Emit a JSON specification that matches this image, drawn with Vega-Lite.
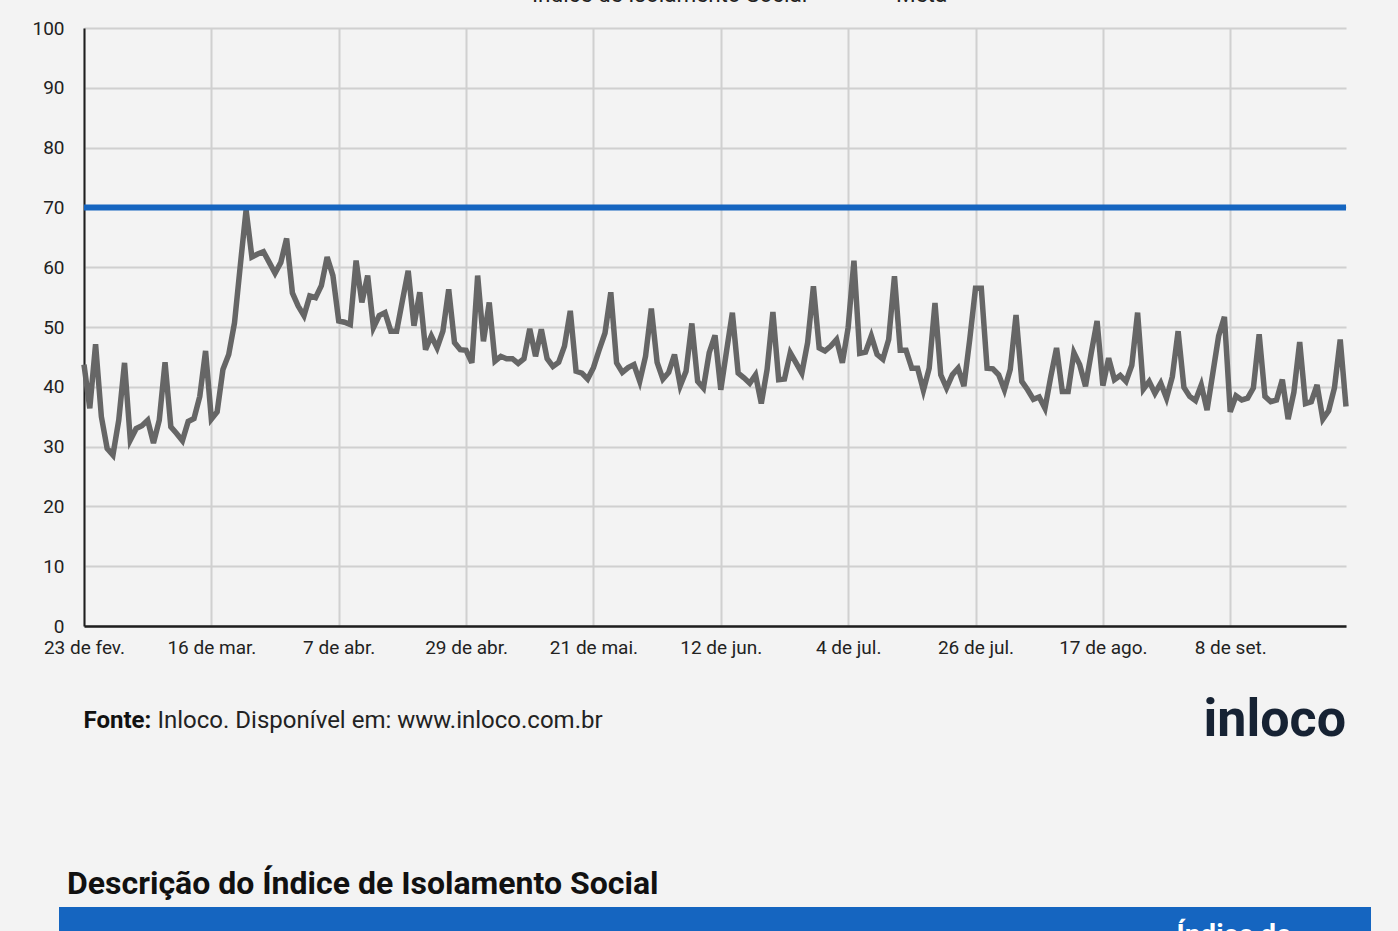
{
  "$schema": "https://vega.github.io/schema/vega-lite/v6.json",
  "background": "#f3f3f3",
  "padding": {"left": 31, "top": -23, "right": 28, "bottom": -17},
  "config": {"view": {"stroke": null}, "font": "Roboto"},
  "bounds": "flush",
  "center": true,
  "spacing": 281,
  "vconcat": [
    {
      "width": 1262,
      "height": 598,
      "title": {"text": "inloco", "orient": "bottom", "anchor": "end", "frame": "group", "fontSize": 52, "fontWeight": "bold", "color": "#162233", "baseline": "alphabetic", "offset": 4},
      "layer": [
        {
          "data": {"values": [
            {"dia":"2020-02-23","indice":43.7},{"dia":"2020-02-24","indice":36.4},{"dia":"2020-02-25","indice":47.1},{"dia":"2020-02-26","indice":35.0},{"dia":"2020-02-27","indice":29.7},{"dia":"2020-02-28","indice":28.6},{"dia":"2020-02-29","indice":34.4},
            {"dia":"2020-03-01","indice":44.0},{"dia":"2020-03-02","indice":31.1},{"dia":"2020-03-03","indice":33.0},{"dia":"2020-03-04","indice":33.5},{"dia":"2020-03-05","indice":34.4},{"dia":"2020-03-06","indice":30.6},{"dia":"2020-03-07","indice":34.4},{"dia":"2020-03-08","indice":44.1},{"dia":"2020-03-09","indice":33.3},{"dia":"2020-03-10","indice":32.2},{"dia":"2020-03-11","indice":31.0},{"dia":"2020-03-12","indice":34.2},{"dia":"2020-03-13","indice":34.7},{"dia":"2020-03-14","indice":38.4},{"dia":"2020-03-15","indice":46.0},{"dia":"2020-03-16","indice":34.6},{"dia":"2020-03-17","indice":35.8},{"dia":"2020-03-18","indice":42.9},{"dia":"2020-03-19","indice":45.4},{"dia":"2020-03-20","indice":50.7},{"dia":"2020-03-21","indice":60.3},{"dia":"2020-03-22","indice":69.6},{"dia":"2020-03-23","indice":61.7},{"dia":"2020-03-24","indice":62.2},{"dia":"2020-03-25","indice":62.6},{"dia":"2020-03-26","indice":60.8},{"dia":"2020-03-27","indice":59.0},{"dia":"2020-03-28","indice":60.8},{"dia":"2020-03-29","indice":64.8},{"dia":"2020-03-30","indice":55.7},{"dia":"2020-03-31","indice":53.5},
            {"dia":"2020-04-01","indice":51.9},{"dia":"2020-04-02","indice":55.2},{"dia":"2020-04-03","indice":54.9},{"dia":"2020-04-04","indice":56.9},{"dia":"2020-04-05","indice":61.7},{"dia":"2020-04-06","indice":58.6},{"dia":"2020-04-07","indice":51.0},{"dia":"2020-04-08","indice":50.8},{"dia":"2020-04-09","indice":50.4},{"dia":"2020-04-10","indice":61.1},{"dia":"2020-04-11","indice":54.1},{"dia":"2020-04-12","indice":58.6},{"dia":"2020-04-13","indice":49.9},{"dia":"2020-04-14","indice":51.9},{"dia":"2020-04-15","indice":52.4},{"dia":"2020-04-16","indice":49.3},{"dia":"2020-04-17","indice":49.3},{"dia":"2020-04-18","indice":54.4},{"dia":"2020-04-19","indice":59.4},{"dia":"2020-04-20","indice":50.2},{"dia":"2020-04-21","indice":55.8},{"dia":"2020-04-22","indice":46.2},{"dia":"2020-04-23","indice":48.5},{"dia":"2020-04-24","indice":46.5},{"dia":"2020-04-25","indice":49.3},{"dia":"2020-04-26","indice":56.3},{"dia":"2020-04-27","indice":47.4},{"dia":"2020-04-28","indice":46.2},{"dia":"2020-04-29","indice":46.1},{"dia":"2020-04-30","indice":44.0},
            {"dia":"2020-05-01","indice":58.6},{"dia":"2020-05-02","indice":47.6},{"dia":"2020-05-03","indice":54.1},{"dia":"2020-05-04","indice":44.3},{"dia":"2020-05-05","indice":45.1},{"dia":"2020-05-06","indice":44.7},{"dia":"2020-05-07","indice":44.7},{"dia":"2020-05-08","indice":43.9},{"dia":"2020-05-09","indice":44.7},{"dia":"2020-05-10","indice":49.7},{"dia":"2020-05-11","indice":45.1},{"dia":"2020-05-12","indice":49.6},{"dia":"2020-05-13","indice":44.7},{"dia":"2020-05-14","indice":43.4},{"dia":"2020-05-15","indice":44.1},{"dia":"2020-05-16","indice":46.8},{"dia":"2020-05-17","indice":52.7},{"dia":"2020-05-18","indice":42.6},{"dia":"2020-05-19","indice":42.3},{"dia":"2020-05-20","indice":41.3},{"dia":"2020-05-21","indice":43.2},{"dia":"2020-05-22","indice":46.2},{"dia":"2020-05-23","indice":49.0},{"dia":"2020-05-24","indice":55.8},{"dia":"2020-05-25","indice":44.0},{"dia":"2020-05-26","indice":42.4},{"dia":"2020-05-27","indice":43.2},{"dia":"2020-05-28","indice":43.7},{"dia":"2020-05-29","indice":40.9},{"dia":"2020-05-30","indice":45.1},{"dia":"2020-05-31","indice":53.1},
            {"dia":"2020-06-01","indice":44.1},{"dia":"2020-06-02","indice":41.3},{"dia":"2020-06-03","indice":42.4},{"dia":"2020-06-04","indice":45.4},{"dia":"2020-06-05","indice":40.2},{"dia":"2020-06-06","indice":42.6},{"dia":"2020-06-07","indice":50.6},{"dia":"2020-06-08","indice":40.9},{"dia":"2020-06-09","indice":39.8},{"dia":"2020-06-10","indice":45.7},{"dia":"2020-06-11","indice":48.6},{"dia":"2020-06-12","indice":39.5},{"dia":"2020-06-13","indice":46.0},{"dia":"2020-06-14","indice":52.4},{"dia":"2020-06-15","indice":42.3},{"dia":"2020-06-16","indice":41.5},{"dia":"2020-06-17","indice":40.6},{"dia":"2020-06-18","indice":42.0},{"dia":"2020-06-19","indice":37.2},{"dia":"2020-06-20","indice":42.9},{"dia":"2020-06-21","indice":52.5},{"dia":"2020-06-22","indice":41.2},{"dia":"2020-06-23","indice":41.3},{"dia":"2020-06-24","indice":45.7},{"dia":"2020-06-25","indice":44.0},{"dia":"2020-06-26","indice":42.3},{"dia":"2020-06-27","indice":47.4},{"dia":"2020-06-28","indice":56.8},{"dia":"2020-06-29","indice":46.5},{"dia":"2020-06-30","indice":46.0},
            {"dia":"2020-07-01","indice":46.8},{"dia":"2020-07-02","indice":47.9},{"dia":"2020-07-03","indice":44.0},{"dia":"2020-07-04","indice":49.9},{"dia":"2020-07-05","indice":61.1},{"dia":"2020-07-06","indice":45.6},{"dia":"2020-07-07","indice":45.8},{"dia":"2020-07-08","indice":48.5},{"dia":"2020-07-09","indice":45.4},{"dia":"2020-07-10","indice":44.6},{"dia":"2020-07-11","indice":47.9},{"dia":"2020-07-12","indice":58.5},{"dia":"2020-07-13","indice":46.1},{"dia":"2020-07-14","indice":46.1},{"dia":"2020-07-15","indice":43.1},{"dia":"2020-07-16","indice":43.1},{"dia":"2020-07-17","indice":39.4},{"dia":"2020-07-18","indice":43.1},{"dia":"2020-07-19","indice":54.0},{"dia":"2020-07-20","indice":42.0},{"dia":"2020-07-21","indice":39.8},{"dia":"2020-07-22","indice":42.0},{"dia":"2020-07-23","indice":43.1},{"dia":"2020-07-24","indice":40.1},{"dia":"2020-07-25","indice":47.9},{"dia":"2020-07-26","indice":56.5},{"dia":"2020-07-27","indice":56.5},{"dia":"2020-07-28","indice":43.1},{"dia":"2020-07-29","indice":43.0},{"dia":"2020-07-30","indice":42.0},{"dia":"2020-07-31","indice":39.5},
            {"dia":"2020-08-01","indice":42.9},{"dia":"2020-08-02","indice":52.0},{"dia":"2020-08-03","indice":40.9},{"dia":"2020-08-04","indice":39.5},{"dia":"2020-08-05","indice":37.9},{"dia":"2020-08-06","indice":38.3},{"dia":"2020-08-07","indice":36.4},{"dia":"2020-08-08","indice":41.7},{"dia":"2020-08-09","indice":46.5},{"dia":"2020-08-10","indice":39.2},{"dia":"2020-08-11","indice":39.2},{"dia":"2020-08-12","indice":45.7},{"dia":"2020-08-13","indice":43.7},{"dia":"2020-08-14","indice":40.1},{"dia":"2020-08-15","indice":45.7},{"dia":"2020-08-16","indice":51.0},{"dia":"2020-08-17","indice":40.2},{"dia":"2020-08-18","indice":44.8},{"dia":"2020-08-19","indice":41.2},{"dia":"2020-08-20","indice":41.9},{"dia":"2020-08-21","indice":40.9},{"dia":"2020-08-22","indice":43.6},{"dia":"2020-08-23","indice":52.4},{"dia":"2020-08-24","indice":39.6},{"dia":"2020-08-25","indice":40.9},{"dia":"2020-08-26","indice":38.9},{"dia":"2020-08-27","indice":40.6},{"dia":"2020-08-28","indice":38.1},{"dia":"2020-08-29","indice":41.7},{"dia":"2020-08-30","indice":49.3},{"dia":"2020-08-31","indice":39.9},
            {"dia":"2020-09-01","indice":38.4},{"dia":"2020-09-02","indice":37.7},{"dia":"2020-09-03","indice":40.3},{"dia":"2020-09-04","indice":36.1},{"dia":"2020-09-05","indice":42.3},{"dia":"2020-09-06","indice":48.5},{"dia":"2020-09-07","indice":51.7},{"dia":"2020-09-08","indice":35.8},{"dia":"2020-09-09","indice":38.5},{"dia":"2020-09-10","indice":37.8},{"dia":"2020-09-11","indice":38.1},{"dia":"2020-09-12","indice":39.8},{"dia":"2020-09-13","indice":48.8},{"dia":"2020-09-14","indice":38.4},{"dia":"2020-09-15","indice":37.5},{"dia":"2020-09-16","indice":37.8},{"dia":"2020-09-17","indice":41.2},{"dia":"2020-09-18","indice":34.6},{"dia":"2020-09-19","indice":39.1},{"dia":"2020-09-20","indice":47.5},{"dia":"2020-09-21","indice":37.2},{"dia":"2020-09-22","indice":37.5},{"dia":"2020-09-23","indice":40.3},{"dia":"2020-09-24","indice":34.6},{"dia":"2020-09-25","indice":36.0},{"dia":"2020-09-26","indice":39.8},{"dia":"2020-09-27","indice":47.9},{"dia":"2020-09-28","indice":36.7}
          ]},
          "mark": {"type": "line", "strokeWidth": 5.5, "strokeJoin": "miter"},
          "encoding": {
            "x": {
              "field": "dia", "type": "temporal",
              "scale": {"type": "utc", "nice": false, "domain": [{"year": 2020, "month": "feb", "date": 23, "utc": true}, {"year": 2020, "month": "sep", "date": 28, "utc": true}]},
              "axis": {
                "values": [
                  {"year": 2020, "month": "feb", "date": 23, "utc": true},
                  {"year": 2020, "month": "mar", "date": 16, "utc": true},
                  {"year": 2020, "month": "apr", "date": 7, "utc": true},
                  {"year": 2020, "month": "apr", "date": 29, "utc": true},
                  {"year": 2020, "month": "may", "date": 21, "utc": true},
                  {"year": 2020, "month": "jun", "date": 12, "utc": true},
                  {"year": 2020, "month": "jul", "date": 4, "utc": true},
                  {"year": 2020, "month": "jul", "date": 26, "utc": true},
                  {"year": 2020, "month": "aug", "date": 17, "utc": true},
                  {"year": 2020, "month": "sep", "date": 8, "utc": true}
                ],
                "labelExpr": "utcdate(datum.value) + ' de ' + ['jan.','fev.','mar.','abr.','mai.','jun.','jul.','ago.','set.','out.','nov.','dez.'][utcmonth(datum.value)]",
                "labelFlush": false, "labelOverlap": false, "labelBound": false,
                "labelFontSize": 19, "labelColor": "#222222", "labelPadding": 12,
                "ticks": false, "grid": true, "gridColor": "#d0d0d0", "gridWidth": 2,
                "domainColor": "#1e1e1e", "domainWidth": 2.5,
                "title": "Fonte:", "titleFontSize": 24, "titleFontWeight": "bold", "titleColor": "#111111",
                "titleX": -1, "titleY": 94, "titleAlign": "left", "titleAnchor": "start", "titleBaseline": "middle"
              }
            },
            "y": {
              "field": "indice", "type": "quantitative",
              "scale": {"domain": [0, 100], "nice": false},
              "axis": {
                "values": [0, 10, 20, 30, 40, 50, 60, 70, 80, 90, 100],
                "labelFontSize": 19, "labelColor": "#222222", "labelPadding": 20,
                "ticks": false, "grid": true, "gridColor": "#d0d0d0", "gridWidth": 2,
                "domainColor": "#1e1e1e", "domainWidth": 2,
                "title": "Inloco. Disponível em: www.inloco.com.br", "titleFontSize": 24, "titleFontWeight": "normal", "titleColor": "#222222",
                "titleAngle": 0, "titleX": 73, "titleY": 692, "titleAlign": "left", "titleBaseline": "middle"
              }
            },
            "color": {
              "datum": "Índice de Isolamento Social",
              "scale": {"domain": ["Índice de Isolamento Social", "Meta"], "range": ["#666666", "#1565c0"]},
              "legend": {
                "orient": "none", "legendX": 430, "legendY": -51, "direction": "horizontal", "title": null,
                "symbolType": "stroke", "symbolStrokeWidth": 5, "symbolSize": 900,
                "labelFontSize": 22.5, "labelColor": "#222222", "labelLimit": 400, "labelOffset": 8, "columnPadding": 37
              }
            }
          }
        },
        {
          "data": {"values": [{"meta": 70}]},
          "mark": {"type": "rule", "strokeWidth": 6},
          "encoding": {
            "y": {"field": "meta", "type": "quantitative"},
            "color": {"datum": "Meta"}
          }
        }
      ]
    },
    {
      "width": 1312,
      "height": 30,
      "title": {"text": "Descrição do Índice de Isolamento Social", "anchor": "start", "frame": "group", "fontSize": 32, "fontWeight": "bold", "color": "#111111", "baseline": "alphabetic", "offset": -19, "dx": 8},
      "view": {"fill": "#1565c0", "stroke": null},
      "data": {"values": [{"coluna": 5, "titulo": ["Índice de", "Isolamento Social"]}]},
      "mark": {"type": "text", "color": "#ffffff", "fontSize": 28, "fontWeight": "bold", "baseline": "alphabetic", "lineHeight": 32, "dy": 22, "dx": -6},
      "encoding": {
        "x": {"field": "coluna", "type": "ordinal", "scale": {"domain": [1, 2, 3, 4, 5]}, "axis": null},
        "text": {"field": "titulo"}
      }
    }
  ]
}
